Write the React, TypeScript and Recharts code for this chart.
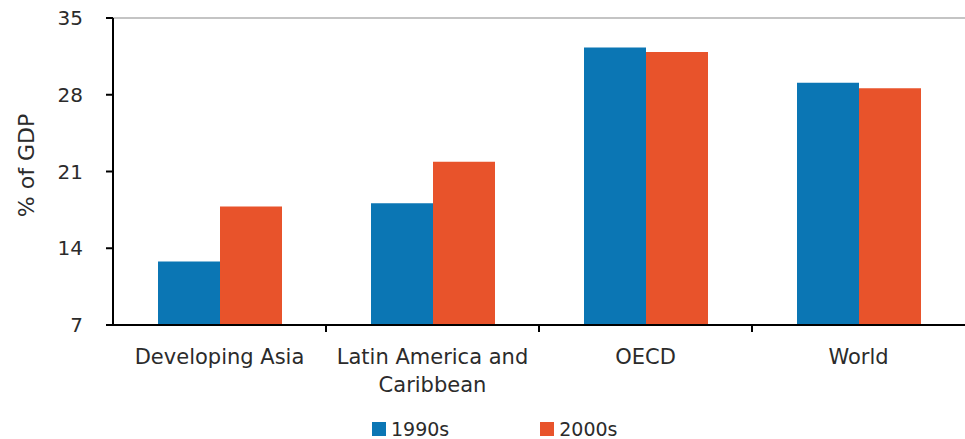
import React from "react";
import { BarChart, Bar, XAxis, YAxis, ReferenceLine, Text } from "recharts";

const categories = ["Developing Asia", "Latin America and Caribbean", "OECD", "World"];
const values1990s = [12.8, 18.1, 32.3, 29.1];
const values2000s = [17.8, 21.9, 31.9, 28.6];
const yTicks = [7, 14, 21, 28, 35];
const seriesNames = ["1990s", "2000s"];

const BLUE = "#0b76b4";
const ORANGE = "#e8532b";
const TEXT = "#2b2b2b";
const FONT = "'DejaVu Sans', 'Noto Sans', sans-serif";

const data = categories.map((c, i) => ({
  name: c,
  s1990: values1990s[i],
  s2000: values2000s[i],
}));

const XTick = (props: any) => {
  const { x, y, payload, index, width, visibleTicksCount } = props;
  const half = payload && payload.offset ? payload.offset : width / (visibleTicksCount || 4) / 2;
  const isLast = index === (visibleTicksCount || 4) - 1;
  return (
    <g>
      {!isLast && (
        <line x1={x + half} x2={x + half} y1={y} y2={y + 7} stroke="#000" strokeWidth={2} />
      )}
      <Text
        x={x}
        y={y + 24}
        width={205}
        textAnchor="middle"
        verticalAnchor="start"
        lineHeight={28}
        fill={TEXT}
        style={{ fontSize: 21, fontFamily: FONT }}
      >
        {payload.value}
      </Text>
    </g>
  );
};

const LegendBox = () => (
  <div
    style={{
      position: "absolute",
      left: 372,
      top: 419,
      display: "flex",
      fontFamily: FONT,
      fontSize: 19,
      color: TEXT,
      lineHeight: "20px",
    }}
  >
    {seriesNames.map((n, i) => (
      <div key={n} style={{ display: "flex", alignItems: "center", marginRight: i === 0 ? 91 : 0 }}>
        <span
          style={{
            display: "inline-block",
            width: 14,
            height: 14,
            background: i === 0 ? BLUE : ORANGE,
            marginRight: 5,
          }}
        />
        <span>{n}</span>
      </div>
    ))}
  </div>
);

export default function App() {
  return (
    <div style={{ position: "absolute", left: 0, top: 0, width: 965, height: 439, background: "#fff", overflow: "hidden" }}>
      <BarChart
        width={965}
        height={439}
        data={data}
        margin={{ top: 18, right: 0, bottom: 34, left: 0 }}
        barCategoryGap={45}
        barGap={0}
      >
        <ReferenceLine y={35} stroke="#c4c4c4" strokeWidth={2} ifOverflow="visible" />
        <XAxis
          dataKey="name"
          interval={0}
          height={80}
          tickSize={0}
          tickMargin={0}
          tickLine={false}
          axisLine={{ stroke: "#000", strokeWidth: 2 }}
          tick={<XTick />}
        />
        <YAxis
          type="number"
          domain={[7, 35]}
          ticks={yTicks}
          width={113}
          tickSize={7}
          tickMargin={23}
          axisLine={{ stroke: "#000", strokeWidth: 2 }}
          tickLine={{ stroke: "#000", strokeWidth: 2 }}
          tick={{ fill: TEXT, fontSize: 20, fontFamily: FONT }}
          label={{
            value: "% of GDP",
            angle: -90,
            position: "insideLeft",
            offset: 26,
            dy: -6,
            style: { fill: TEXT, fontSize: 22, fontFamily: FONT, textAnchor: "middle" },
          }}
        />
        <Bar dataKey="s1990" name="1990s" fill={BLUE} isAnimationActive={false} />
        <Bar dataKey="s2000" name="2000s" fill={ORANGE} isAnimationActive={false} />
      </BarChart>
      <LegendBox />
    </div>
  );
}
